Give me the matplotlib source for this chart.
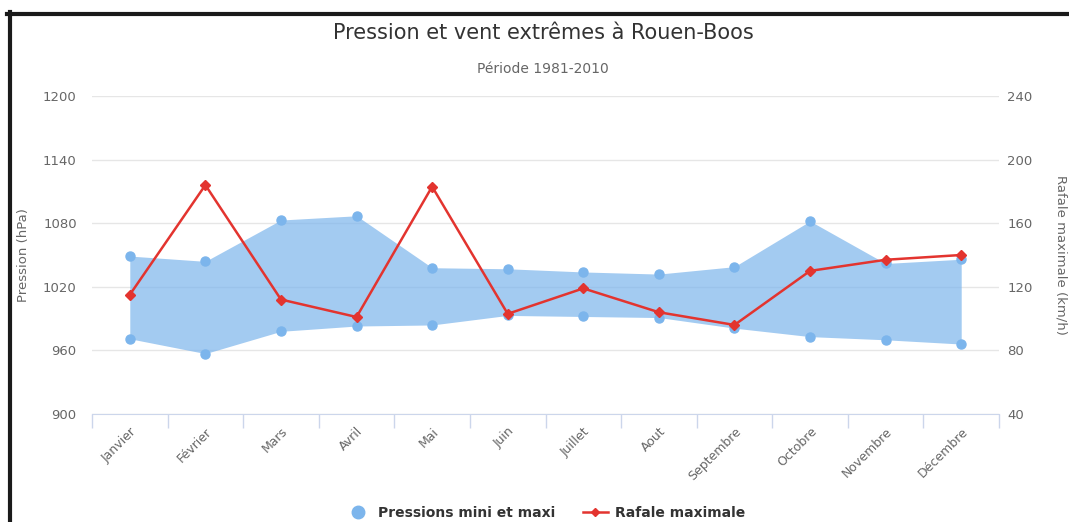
import numpy as np
import matplotlib
matplotlib.use('Agg')
import matplotlib.pyplot as plt
from matplotlib.lines import Line2D

months = ['Janvier', 'Février', 'Mars', 'Avril', 'Mai', 'Juin', 'Juillet',
          'Aout', 'Septembre', 'Octobre', 'Novembre', 'Décembre']
pression_min = [971, 957, 978, 983, 984, 993, 992, 991, 981, 973, 970, 966]
pression_max = [1049, 1044, 1083, 1087, 1038, 1037, 1034, 1032, 1039, 1082, 1042, 1046]
rafale = [115, 184, 112, 101, 183, 103, 119, 104, 96, 130, 137, 140]

left_ticks = [900, 960, 1020, 1080, 1140, 1200]
right_ticks = [40, 80, 120, 160, 200, 240]

blue = '#7cb5ec'
red = '#e3342f'
grey = '#666666'

W, H = 1069, 522
fig = plt.figure(figsize=(W / 100, H / 100), dpi=100)
fig.patch.set_facecolor('white')

ax = fig.add_axes([92 / W, 1 - 414 / H, (999 - 92) / W, (414 - 96) / H])
x = np.arange(len(months))

# pressure range
ax.fill_between(x, pression_min, pression_max, color=blue, alpha=0.7, lw=0, zorder=2)
ax.plot(x, pression_min, 'o', color=blue, ms=6.5, zorder=3)
ax.plot(x, pression_max, 'o', color=blue, ms=6.5, zorder=3)

ax.set_xlim(-0.5, len(months) - 0.5)
ax.set_ylim(900, 1200)
ax.set_yticks(left_ticks)
ax.set_yticklabels([str(t) for t in left_ticks])
ax.grid(axis='y', color='#e6e6e6', lw=1, zorder=0)
ax.set_axisbelow(True)

ax.set_xticks(x)
ax.set_xticklabels(months, rotation=45, ha='right', va='top',
                   rotation_mode='anchor', color=grey, fontsize=9)
ax.set_xticks(np.arange(-0.5, len(months)), minor=True)
ax.tick_params(axis='x', which='major', length=0, pad=8)
ax.tick_params(axis='x', which='minor', length=10, color='#ccd6eb', width=1)
ax.tick_params(axis='y', length=0, labelcolor=grey, labelsize=9.5, pad=11)

for side in ['top', 'right', 'left']:
    ax.spines[side].set_visible(False)
ax.spines['bottom'].set_color('#ccd6eb')
ax.set_ylabel('Pression (hPa)', color=grey, fontsize=9.5)
ax.yaxis.set_label_coords(-62 / 907, 0.5)

# wind gusts
ax2 = ax.twinx()
ax2.plot(x, rafale, '-D', color=red, lw=1.8, ms=5, zorder=4)
ax2.set_ylim(40, 240)
ax2.set_yticks(right_ticks)
ax2.set_yticklabels([str(t) for t in right_ticks])
ax2.tick_params(axis='y', length=0, labelcolor=grey, labelsize=9.5, pad=6)
for side in ['top', 'right', 'left', 'bottom']:
    ax2.spines[side].set_visible(False)
ax2.set_ylabel('Rafale maximale (km/h)', color=grey, fontsize=9.5, rotation=270)
ax2.yaxis.set_label_coords(1 + 69 / 907, 0.5)

fig.text(0.508, 1 - 33 / H, 'Pression et vent extrêmes à Rouen-Boos',
         ha='center', va='center', fontsize=15, color='#333333')
fig.text(0.508, 1 - 69 / H, 'Période 1981-2010',
         ha='center', va='center', fontsize=10, color=grey)

# legend
handles = [Line2D([], [], marker='o', ls='none', color=blue, ms=9),
           Line2D([], [], marker='D', color=red, lw=1.8, ms=4)]
leg = fig.legend(handles, ['Pressions mini et maxi', 'Rafale maximale'],
                 loc='center', bbox_to_anchor=(0.51, 1 - 513 / H), ncol=2,
                 frameon=False, fontsize=10, handlelength=1.8,
                 columnspacing=2, handletextpad=0.5)
for t in leg.get_texts():
    t.set_fontweight('bold')
    t.set_color('#333333')

# screenshot frame
fig.add_artist(Line2D([7 / W, 1], [1 - 14 / H, 1 - 14 / H],
                      transform=fig.transFigure, color='#1a1a1a', lw=3))
fig.add_artist(Line2D([9.5 / W, 9.5 / W], [1 - 12 / H, 0],
                      transform=fig.transFigure, color='#1a1a1a', lw=3))

fig.savefig('out.png', dpi=100)
